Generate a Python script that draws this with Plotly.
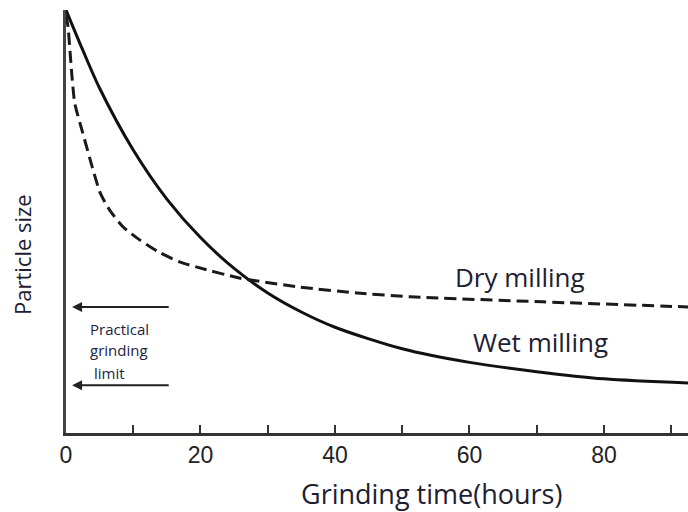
import plotly.graph_objects as go

# Data
time_wet = [0, 2.5, 5, 10, 15, 20, 25, 30, 35, 40, 50, 60, 70, 80, 92.5]
size_wet = [100, 90.5, 81.5, 66.9, 55.3, 46.2, 38.9, 33.1, 28.6, 25.0, 19.9, 16.7, 14.5, 12.8, 11.8]

time_dry = [0, 0.3, 0.8, 1.3, 2.5, 3.9, 5.1, 6.5, 8.5, 11.0, 14.0, 17.0, 19.5, 25.9, 34.8, 43.3, 51.2, 70.9, 92.5]
size_dry = [98.8, 96, 86, 78.0, 70.9, 62.9, 56.7, 52.7, 48.7, 45.6, 42.6, 40.4, 39.2, 36.6, 34.5, 33.1, 32.2, 31.0, 29.8]

limit_levels = [29.8, 11.3]
limit_text = ["Practical", "grinding", "limit"]

x_tickvals = [0, 10, 20, 30, 40, 50, 60, 70, 80, 90]
x_ticktext = ["0", "", "20", "", "40", "", "60", "", "80", ""]

fig = go.Figure()
fig.add_trace(go.Scatter(x=time_wet, y=size_wet, mode="lines", name="Wet milling",
                         line=dict(color="#111111", width=3, shape="spline", smoothing=0.8),
                         cliponaxis=False))
fig.add_trace(go.Scatter(x=time_dry, y=size_dry, mode="lines", name="Dry milling",
                         line=dict(color="#1a1a1a", width=3, dash="12px,6px", shape="spline", smoothing=0.6),
                         cliponaxis=False))

for lv in limit_levels:
    fig.add_annotation(x=0.9, y=lv, ax=15.5, ay=lv, xref="x", yref="y", axref="x", ayref="y",
                       showarrow=True, arrowhead=2, arrowsize=1, arrowwidth=2, arrowcolor="#222222", text="")

txt_font = dict(family="Open Sans, Lato, sans-serif", size=15, color="#1c2440")
for i, t in enumerate(limit_text):
    fig.add_annotation(x=3.3 if i < 2 else 3.9, y=[24.6, 19.6, 14.2][i], xref="x", yref="y",
                       text=t, showarrow=False, xanchor="left", yanchor="middle", font=txt_font)

lab_font = dict(family="Open Sans, Lato, sans-serif", size=26, color="#1c2030")
fig.add_annotation(x=67.5, y=36.9, xref="x", yref="y", text="Dry milling", showarrow=False,
                   xanchor="center", yanchor="middle", font=lab_font)
fig.add_annotation(x=70.5, y=21.5, xref="x", yref="y", text="Wet milling", showarrow=False,
                   xanchor="center", yanchor="middle", font=lab_font)

fig.add_annotation(x=(431 - 66) / 622, y=(433 - 493) / 423, xref="paper", yref="paper",
                   text="Grinding time(hours)", showarrow=False, xanchor="center", yanchor="middle",
                   font=dict(family="Open Sans, Lato, sans-serif", size=27, color="#1c2030"))
fig.add_annotation(x=(22 - 66) / 622, y=(433 - 255) / 423, xref="paper", yref="paper",
                   text="Particle size", showarrow=False, textangle=-90, xanchor="center", yanchor="middle",
                   font=dict(family="Open Sans, Lato, sans-serif", size=22, color="#1c2030"))

fig.update_layout(
    width=688, height=512,
    margin=dict(l=66, r=0, t=10, b=79),
    paper_bgcolor="white", plot_bgcolor="white",
    showlegend=False,
    xaxis=dict(range=[0, 92.5], tickvals=x_tickvals, ticktext=x_ticktext,
               ticks="inside", ticklen=8, tickwidth=2, tickcolor="#333333",
               showline=True, linewidth=2.5, linecolor="#333333", showgrid=False, zeroline=False,
               tickfont=dict(family="Liberation Sans, Arial, sans-serif", size=23, color="#222222")),
    yaxis=dict(range=[0, 100], showticklabels=False, ticks="",
               showline=True, linewidth=2.5, linecolor="#444444", showgrid=False, zeroline=False),
)

fig.write_html("out.html")
